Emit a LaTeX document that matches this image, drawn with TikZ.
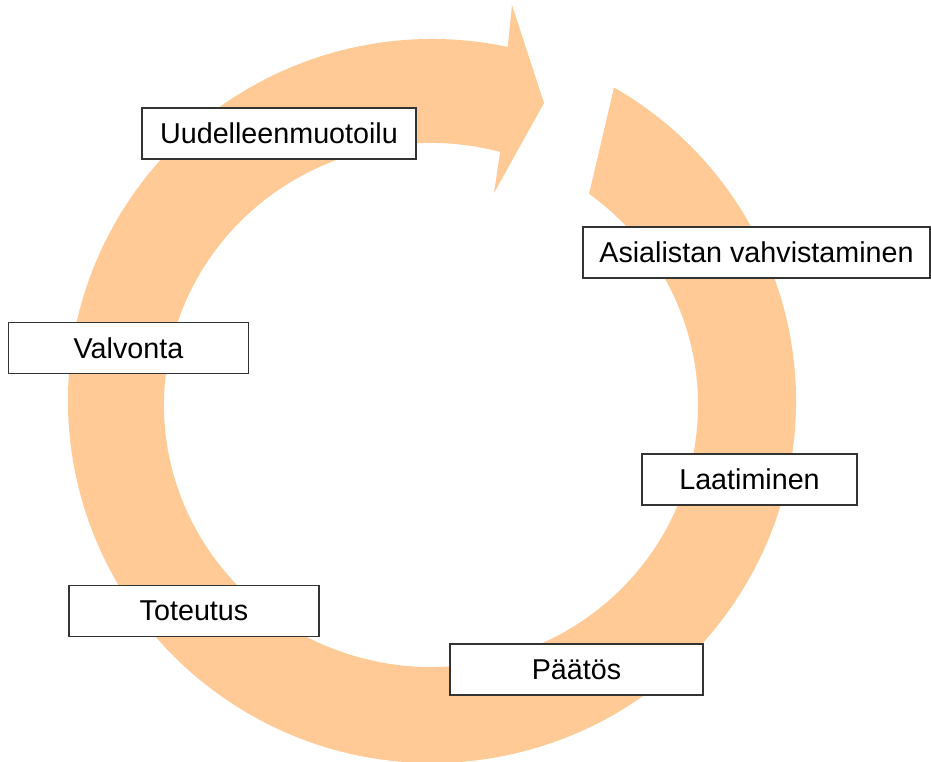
\documentclass[tikz,border=0pt]{standalone}
\usepackage{fontspec}
\setmainfont{Liberation Sans}
\usetikzlibrary{calc}
\definecolor{peach}{RGB}{255,202,150}
\begin{document}
\begin{tikzpicture}[x=0.03cm, y=0.03cm,
        stagebox/.style = {draw=black!80, line width=1.1pt, fill=white,
            minimum height=1.53cm, inner sep=0pt,
            font=\fontsize{24.5}{28}\selectfont}]
        \useasboundingbox (0, 0) rectangle (931, 762);
        \coordinate (O) at (432, 361);
        \coordinate (I) at (431, 357);
        \fill [peach] ($(O) + (60:364 and 362)$)
            arc [start angle=60, end angle=-282, x radius=364, y radius=362]
            -- (512, 757) -- (544, 659) -- (494, 569)
            -- ($(I) + (-285:267 and 262)$)
            arc [start angle=-285, end angle=53.7, x radius=267, y radius=262]
            -- cycle;
        \node [stagebox, minimum width=8.22cm] (uud) at (279, 628.5) {Uudelleenmuotoilu};
        \node [stagebox, minimum width=10.41cm] (asia) at (756.5, 509.5) {Asialistan vahvistaminen};
        \node [stagebox, minimum width=7.2cm] (valv) at (128.5, 414) {Valvonta};
        \node [stagebox, minimum width=6.45cm] (laat) at (749.5, 282.5) {Laatiminen};
        \node [stagebox, minimum width=7.5cm] (tot) at (194, 151) {Toteutus};
        \node [stagebox, minimum width=7.59cm] (paat) at (576.5, 92.5) {Päätös};
    \end{tikzpicture}
\end{document}
